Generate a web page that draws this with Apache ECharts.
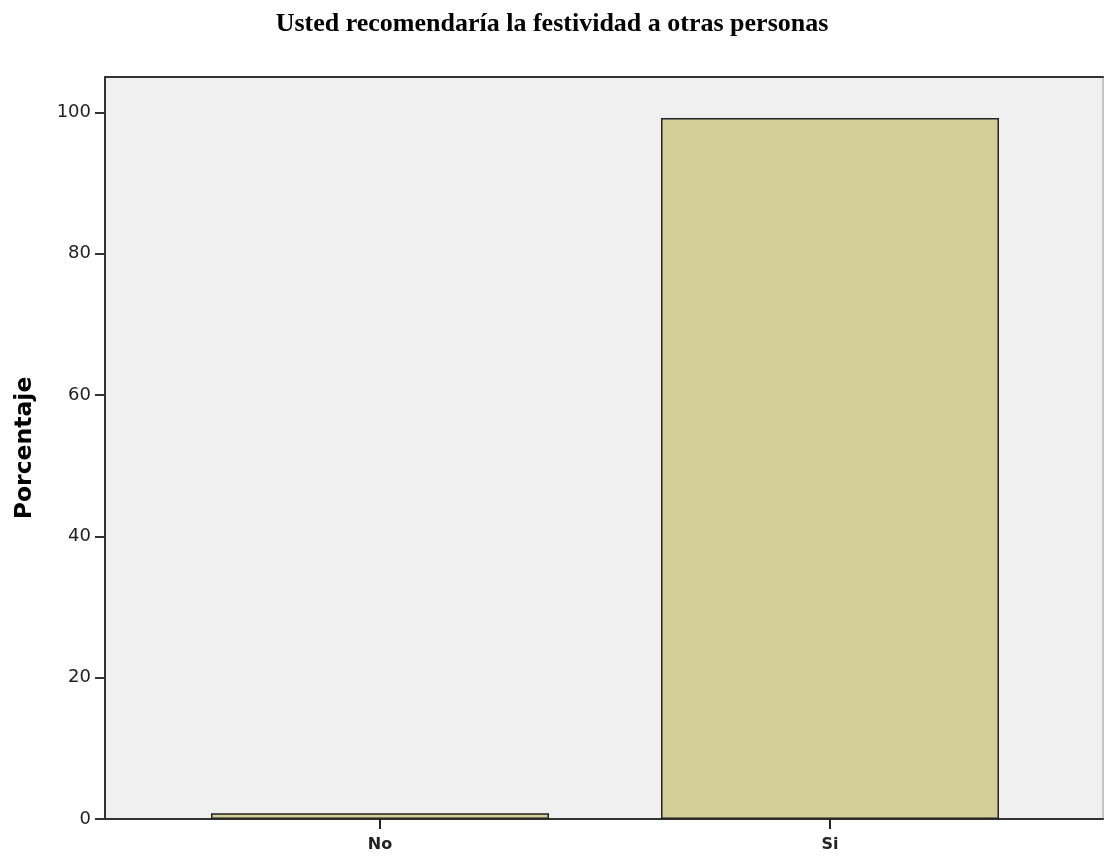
<!DOCTYPE html>
<html><head><meta charset="utf-8">
<script src="https://cdn.jsdelivr.net/npm/echarts@6/dist/echarts.min.js"></script>
<style>html,body{margin:0;padding:0;background:#fff}#c{width:1104px;height:856px}</style>
</head><body><div id="c"></div>
<script>
const titleText = 'Usted recomendaría la festividad a otras personas';
const categories = ['No', 'Si'];
const percentValues = [0.8, 99.2];
const yTicks = [0, 20, 40, 60, 80, 100];
const yAxisName = 'Porcentaje';

const chart = echarts.init(document.getElementById('c'));
const G = {top: 77, bottom: 37};
chart.setOption({
  animation: false,
  title: {text: titleText, left: 'center', top: 6,
    textStyle: {fontFamily: 'Liberation Serif', fontWeight: 'bold', fontSize: 26, color: '#000'}},
  grid: [
    {left: 105, right: 1, top: G.top, bottom: G.bottom, show: true, backgroundColor: '#f0f0f0', borderWidth: 0},
    {left: 155, width: 900, top: G.top, bottom: G.bottom}
  ],
  xAxis: [
    {gridIndex: 0, type: 'value', min: 0, max: 1, position: 'bottom',
      axisLine: {show: true, onZero: false, lineStyle: {color: '#333', width: 2}},
      axisTick: {show: false}, axisLabel: {show: false}, splitLine: {show: false}},
    {gridIndex: 0, type: 'value', min: 0, max: 1, position: 'top',
      axisLine: {show: true, onZero: false, lineStyle: {color: '#333', width: 2}},
      axisTick: {show: false}, axisLabel: {show: false}, splitLine: {show: false}},
    {gridIndex: 1, type: 'category', data: categories, position: 'bottom',
      axisLine: {show: false, onZero: false},
      axisTick: {show: true, alignWithLabel: true, length: 10, lineStyle: {color: '#222', width: 2}},
      axisLabel: {fontFamily: 'DejaVu Sans', fontWeight: 'bold', fontSize: 16, color: '#222', margin: 18}}
  ],
  yAxis: [
    {gridIndex: 0, type: 'value', min: 0, max: 105, interval: 20, position: 'left',
      axisLine: {show: true, onZero: false, lineStyle: {color: '#333', width: 2}},
      axisTick: {show: true, length: 10, lineStyle: {color: '#333', width: 2},
        customValues: yTicks},
      axisLabel: {fontFamily: 'DejaVu Sans', fontSize: 18, color: '#222', margin: 14,
        customValues: yTicks},
      splitLine: {show: false},
      name: yAxisName, nameLocation: 'middle', nameGap: 68,
      nameTextStyle: {fontFamily: 'DejaVu Sans', fontWeight: 'bold', fontSize: 23.5, color: '#000'}},
    {gridIndex: 0, type: 'value', min: 0, max: 105, position: 'right',
      axisLine: {show: true, onZero: false, lineStyle: {color: '#c4c4c4', width: 2}},
      axisTick: {show: false}, axisLabel: {show: false}, splitLine: {show: false}},
    {gridIndex: 1, type: 'value', min: 0, max: 105, show: false}
  ],
  series: [{
    type: 'bar', xAxisIndex: 2, yAxisIndex: 2, data: percentValues,
    barWidth: 338,
    itemStyle: {color: '#d3ce98', borderColor: '#222', borderWidth: 1.5}
  }]
});
</script></body></html>
